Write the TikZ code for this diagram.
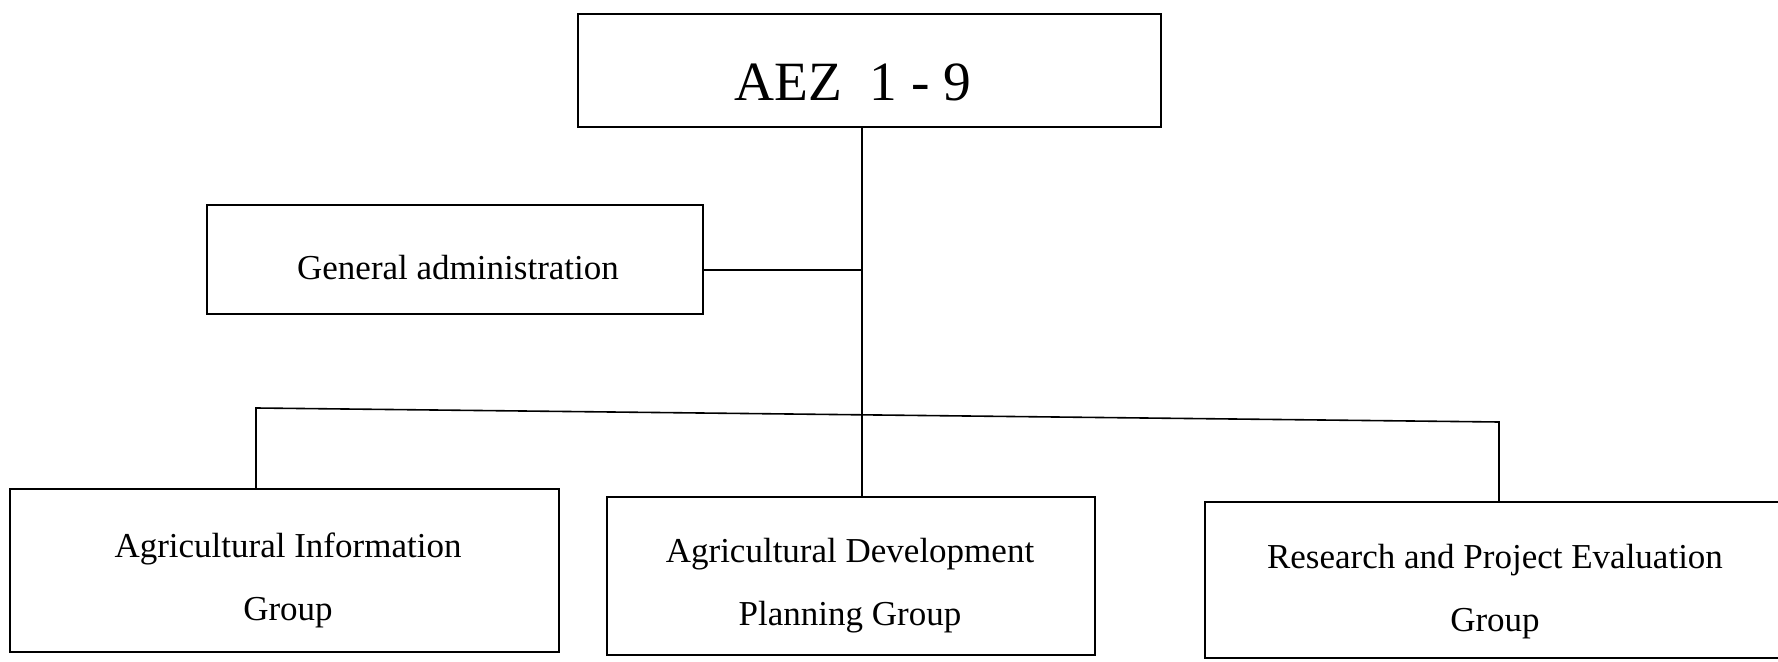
\documentclass[tikz,border=0pt]{standalone}
\usepackage{fontspec}
\setmainfont{Liberation Serif}
\begin{document}
\begin{tikzpicture}[x=0.5pt,y=-0.5pt,
  box/.style={draw, line width=0.8pt, rectangle, inner sep=0pt},
  wire/.style={line width=0.8pt},
  lbl/.style={font=\fontsize{17.5}{31.5}\selectfont, align=center, inner sep=0pt},
  biglbl/.style={font=\fontsize{27.7}{33}\selectfont, inner sep=0pt}]
\useasboundingbox (0,0) rectangle (1778,662);

% boxes
\node[box, minimum width=291.5pt, minimum height=56.5pt] (top) at (869.5,70.5) {};
\node[box, minimum width=248pt, minimum height=54.5pt] (ga) at (455,259.5) {};
\node[box, minimum width=274.5pt, minimum height=81.5pt] (info) at (284.5,570.5) {};
\node[box, minimum width=244pt, minimum height=79pt] (dev) at (851,576) {};
\node[box, minimum width=290.5pt, minimum height=78pt] (res) at (1495.5,580) {};

% labels
\node[biglbl] (topt) at (853,82) {AEZ\ \ 1 - 9};
\node[lbl] (gat) at (458,268) {General administration};
\node[lbl] (infot) at (288,580) {Agricultural Information\\Group};
\node[lbl] (devt) at (850,586) {Agricultural Development\\Planning Group};
\node[lbl] (rest) at (1495,592) {Research and Project Evaluation\\Group};

% junctions
\coordinate (j) at (862,270);
\coordinate (bl) at (256,408);
\coordinate (br) at (1499,422);

% connectors
\draw[wire] (top.south -| j) -- (dev.north -| j);
\draw[wire] (ga.east |- j) -- (j);
\draw[wire] (info.north -| bl) -- (bl) -- (br) -- (res.north -| br);
\end{tikzpicture}
\end{document}
